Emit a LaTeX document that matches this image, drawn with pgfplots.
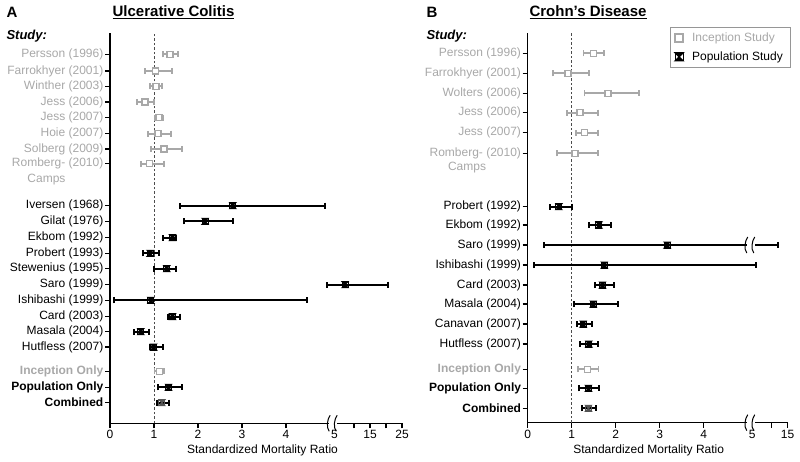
\documentclass[border=0pt]{standalone}
\usepackage{pgfplots}
\pgfplotsset{compat=1.18}
\usepackage{pgfplotstable}
\usepackage{fontspec}
\setmainfont{Liberation Sans}
\definecolor{incgray}{RGB}{168,168,168}
\definecolor{combgray}{RGB}{85,85,85}
\definecolor{legbox}{RGB}{150,150,150}

\pgfdeclareplotmark{hourglass}{%
  \pgfpathmoveto{\pgfqpoint{-\pgfplotmarksize}{\pgfplotmarksize}}%
  \pgfpathlineto{\pgfqpoint{\pgfplotmarksize}{\pgfplotmarksize}}%
  \pgfpathlineto{\pgfqpoint{-\pgfplotmarksize}{-\pgfplotmarksize}}%
  \pgfpathlineto{\pgfqpoint{\pgfplotmarksize}{-\pgfplotmarksize}}%
  \pgfpathclose
  \pgfusepathqfillstroke
  \pgfpathrectangle{\pgfqpoint{-\pgfplotmarksize}{-\pgfplotmarksize}}{\pgfqpoint{2\pgfplotmarksize}{2\pgfplotmarksize}}%
  \pgfusepathqstroke
}

% Ulcerative colitis: y = vertical position of the row, smr, lower, upper
\pgfplotstableread{
y smr lo hi
406.7 1.36 1.20 1.55
390.0 1.03 0.80 1.41
374.7 1.05 0.91 1.19
359.0 0.80 0.61 1.00
343.3 1.11 1.02 1.20
327.3 1.09 0.86 1.38
312.0 1.23 0.93 1.63
297.3 0.90 0.70 1.23
89.7 1.12 1.01 1.23
}\ucinc
\pgfplotstableread{
y smr lo hi
255.3 2.79 1.59 4.89
239.7 2.16 1.67 2.80
223.3 1.42 1.20 1.49
207.7 0.91 0.74 1.12
192.3 1.29 1.01 1.50
176.3 7.2 4.93 20.5
160.7 0.93 0.10 4.47
144.3 1.42 1.31 1.58
129.3 0.70 0.55 0.89
114.0 0.99 0.90 1.20
73.7 1.33 1.08 1.63
}\ucpop
\pgfplotstableread{
y smr lo hi
58.3 1.18 1.06 1.35
}\uccomb

% Crohn's disease
\pgfplotstableread{
y smr lo hi
407.7 1.49 1.27 1.73
387.7 0.92 0.58 1.40
367.7 1.83 1.29 2.53
348.3 1.19 0.89 1.60
328.3 1.29 1.09 1.60
307.7 1.07 0.67 1.60
91.7 1.36 1.15 1.61
}\cdinc
\pgfplotstableread{
y smr lo hi
254.3 0.71 0.51 1.01
236.0 1.62 1.39 1.89
216.0 3.17 0.37 12.0
196.0 1.74 0.15 5.05
176.0 1.70 1.53 1.95
157.0 1.49 1.05 2.06
137.0 1.26 1.11 1.45
117.0 1.39 1.19 1.60
72.7 1.38 1.17 1.63
}\cdpop
\pgfplotstableread{
y smr lo hi
52.7 1.38 1.23 1.55
}\cdcomb

\pgfplotsset{
  forest/.style={
    scale only axis, clip=false,
    axis x line*=bottom, axis y line*=left,
    axis line style={-, line width=1.5pt, black},
    tick align=outside, major tick length=5pt,
    tick style={line width=1.2pt, black},
    x tick label style={font=\fontsize{12}{14}\selectfont, inner ysep=2pt},
    y tick label style={font=\fontsize{12}{14}\selectfont, inner xsep=1.5pt},
    extra x tick style={tick style={draw=none}},
  },
  incplot/.style={only marks, mark=square*, mark size=3pt, color=incgray,
    mark options={fill=white, draw=incgray, line width=1.5pt},
    error bars/x dir=both, error bars/x explicit,
    error bars/error bar style={incgray, line width=1.8pt},
    error bars/error mark options={rotate=90, incgray, mark size=3pt, line width=1.8pt}},
  popplot/.style={only marks, mark=hourglass, mark size=3pt, color=black,
    mark options={fill=black, draw=black, line width=1pt},
    error bars/x dir=both, error bars/x explicit,
    error bars/error bar style={black, line width=2pt},
    error bars/error mark options={rotate=90, black, mark size=3pt, line width=2pt}},
  combplot/.style={only marks, mark=hourglass, mark size=3pt, color=combgray,
    mark options={fill=combgray, draw=combgray, line width=1pt},
    error bars/x dir=both, error bars/x explicit,
    error bars/error bar style={black, line width=2pt},
    error bars/error mark options={rotate=90, black, mark size=3pt, line width=2pt}},
  /pgfplots/table/brktable/.style={x expr={brk(\thisrow{smr})}, y=y,
    x error plus expr={brk(\thisrow{hi})-brk(\thisrow{smr})},
    x error minus expr={brk(\thisrow{smr})-brk(\thisrow{lo})}},
}

\newcommand{\brkmark}[2]{% #1 = x (axis), #2 = y (axis)
  \fill[white] ([xshift=-4pt,yshift=-3.5pt]axis cs:#1,#2) rectangle ([xshift=4pt,yshift=3.5pt]axis cs:#1,#2);
  \draw[line width=1pt] ([xshift=-4pt,yshift=-8pt]axis cs:#1,#2) .. controls +(-3pt,4pt) and +(-3pt,-4pt) .. ([xshift=-3pt,yshift=8pt]axis cs:#1,#2);
  \draw[line width=1pt] ([xshift=3pt,yshift=-8pt]axis cs:#1,#2) .. controls +(-3pt,4pt) and +(-3pt,-4pt) .. ([xshift=4pt,yshift=8pt]axis cs:#1,#2);
}

\begin{document}
\begin{tikzpicture}[declare function={brk(\x)=(\x<=5)*\x+(\x>5)*(5.18+(\x-5)*0.0727);}]
\path[use as bounding box] (0pt,0pt) rectangle (800pt,461pt);

% ---------------- Panel A ----------------
\begin{axis}[forest,
  at={(110pt,37.7pt)}, anchor=south west,
  width=292pt, height=390.3pt,
  xmin=0, xmax=6.634, ymin=37.7, ymax=428,
  xtick={0,1,2,3,4,5.5435,5.907,6.2705,6.634},
  xticklabels={0,1,2,3,4,,15,,25},
  extra x ticks={5.1}, extra x tick labels={5},
  ytick={406.7,390.0,374.7,359.0,343.3,327.3,312.0,297.3,255.3,239.7,223.3,207.7,192.3,176.3,160.7,144.3,129.3,114.0,89.7,73.7,58.3},
  yticklabels={{\color{incgray}Persson (1996)},{\color{incgray}Farrokhyer (2001)},{\color{incgray}Winther (2003)},{\color{incgray}Jess (2006)},{\color{incgray}Jess (2007)},{\color{incgray}Hoie (2007)},{\color{incgray}Solberg (2009)},{\color{incgray}Romberg- (2010)},
    Iversen (1968),Gilat (1976),Ekbom (1992),Probert (1993),Stewenius (1995),Saro (1999),Ishibashi (1999),Card (2003),Masala (2004),Hutfless (2007),
    {\bfseries\color{incgray}Inception Only},{\bfseries Population Only},{\bfseries Combined}},
]
\addplot[forget plot, color=black!70, line width=0.8pt, dash pattern=on 2.5pt off 2pt] coordinates {(1,37.7) (1,428)};
\addplot[incplot] table[brktable] {\ucinc};
\addplot[popplot] table[brktable] {\ucpop};
\addplot[combplot] table[brktable] {\uccomb};
\brkmark{5.07}{37.7}
\end{axis}

% ---------------- Panel B ----------------
\begin{axis}[forest,
  at={(527.7pt,38.3pt)}, anchor=south west,
  width=259.9pt, height=389.7pt,
  xmin=0, xmax=5.907, ymin=38.3, ymax=428,
  xtick={0,1,2,3,4,5.5435,5.907},
  xticklabels={0,1,2,3,4,,15},
  extra x ticks={5.1}, extra x tick labels={5},
  ytick={407.7,387.7,367.7,348.3,328.3,307.7,254.3,236.0,216.0,196.0,176.0,157.0,137.0,117.0,91.7,72.7,52.7},
  yticklabels={{\color{incgray}Persson (1996)},{\color{incgray}Farrokhyer (2001)},{\color{incgray}Wolters (2006)},{\color{incgray}Jess (2006)},{\color{incgray}Jess (2007)},{\color{incgray}Romberg- (2010)},
    Probert (1992),Ekbom (1992),Saro (1999),Ishibashi (1999),Card (2003),Masala (2004),Canavan (2007),Hutfless (2007),
    {\bfseries\color{incgray}Inception Only},{\bfseries Population Only},{\bfseries Combined}},
  legend style={at={(1.01,1.015)}, anchor=north east, draw=legbox, line width=0.7pt,
    font=\fontsize{12}{14}\selectfont, row sep=5pt, column sep=7pt, inner xsep=5pt, inner ysep=3pt},
  legend cell align=left,
]
\addplot[forget plot, color=black!70, line width=0.8pt, dash pattern=on 2.5pt off 2pt] coordinates {(1,38.3) (1,428)};
\addplot[forget plot, incplot] table[brktable] {\cdinc};
\addplot[forget plot, popplot] table[brktable] {\cdpop};
\addplot[forget plot, combplot] table[brktable] {\cdcomb};
\addlegendimage{only marks, mark=square*, mark size=4pt, mark options={fill=white, draw=incgray, line width=2pt}}
\addlegendentry{\textcolor{incgray}{Inception Study}}
\addlegendimage{only marks, mark=hourglass, mark size=4pt, mark options={fill=black, draw=black, line width=1.2pt}}
\addlegendentry{Population Study}
\brkmark{5.07}{38.3}
\brkmark{5.07}{216.0}
\end{axis}

% ---------------- Text ----------------
\node[anchor=west, font=\fontsize{15}{17}\selectfont\bfseries] at (3pt,449pt) {A};
\node[font=\fontsize{15}{17}\selectfont\bfseries] at (173.5pt,449pt) {\underline{Ulcerative Colitis}};
\node[anchor=west, font=\fontsize{15}{17}\selectfont\bfseries] at (423pt,449pt) {B};
\node[font=\fontsize{15}{17}\selectfont\bfseries] at (588pt,449pt) {\underline{Crohn’s Disease}};
\node[anchor=west, font=\fontsize{13}{15}\selectfont\bfseries\itshape] at (3pt,425pt) {Study:};
\node[anchor=west, font=\fontsize{13}{15}\selectfont\bfseries\itshape] at (423pt,425pt) {Study:};
\node[font=\fontsize{12}{14}\selectfont, text=incgray] at (46.5pt,281pt) {Camps};
\node[font=\fontsize{12}{14}\selectfont, text=incgray] at (467pt,293.3pt) {Camps};
\node[font=\fontsize{12}{14}\selectfont] at (262.5pt,11pt) {Standardized Mortality Ratio};
\node[font=\fontsize{12}{14}\selectfont] at (648.7pt,11pt) {Standardized Mortality Ratio};
\end{tikzpicture}
\end{document}
